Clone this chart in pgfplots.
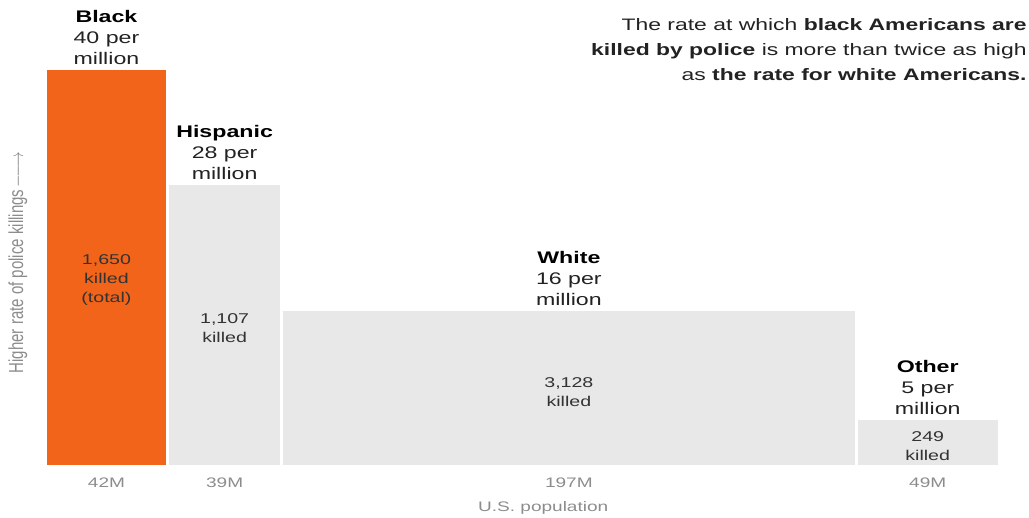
\documentclass[border=0pt]{standalone}
\usepackage{pgfplots}
\pgfplotsset{compat=1.18}
\usepackage{fontspec}
\setmainfont{Liberation Sans}
\newfontfamily\widefont[FakeStretch=1.38]{Liberation Sans}
\definecolor{orng}{HTML}{F26419}
\definecolor{lgray}{HTML}{E8E8E8}
\definecolor{tgray}{HTML}{8C8C8C}
\definecolor{ink}{HTML}{222222}
\definecolor{ink2}{HTML}{333333}
\newcommand{\hdfont}{\widefont\fontsize{8.4}{10.5}\selectfont}
\newcommand{\infont}{\widefont\fontsize{7.1}{9.5}\selectfont}
\newcommand{\tkfont}{\widefont\fontsize{6.9}{9}\selectfont}
\newcommand{\anfont}{\widefont\fontsize{8.3}{12.5}\selectfont}
\begin{document}
\begin{tikzpicture}[x=1pt,y=1pt]
\useasboundingbox (0,0) rectangle (514.5,259);
\begin{axis}[
  at={(22.6pt,25.5pt)}, anchor=south west,
  scale only axis, width=477pt, height=200pt,
  xmin=0, xmax=327, ymin=0, ymax=40,
  axis line style={draw=none}, tick style={draw=none},
  ytick=\empty,
  xtick={21,61.5,179.5,302.5},
  xticklabels={42M,39M,197M,49M},
  xticklabel style={font=\tkfont, text=tgray, anchor=base, yshift=-10.2pt},
  clip=false,
]
% bars: population (M) as widths, rate per million as heights
\addplot[fill=orng, draw=white, line width=1.5pt] coordinates {(0,0) (0,39.8) (42,39.8) (42,0)} -- cycle;
\addplot[fill=lgray, draw=white, line width=1.5pt] coordinates {(42,0) (42,28.3) (81,28.3) (81,0)} -- cycle;
\addplot[fill=lgray, draw=white, line width=1.5pt] coordinates {(81,0) (81,15.7) (278,15.7) (278,0)} -- cycle;
\addplot[fill=lgray, draw=white, line width=1.5pt] coordinates {(278,0) (278,4.8) (327,4.8) (327,0)} -- cycle;

% headers
\node[anchor=base, inner sep=0, font=\hdfont\bfseries, text=black] at (axis cs:21,44.45) {Black};
\node[anchor=base, inner sep=0, font=\hdfont, text=ink] at (axis cs:21,42.35) {40 per};
\node[anchor=base, inner sep=0, font=\hdfont, text=ink] at (axis cs:21,40.25) {million};

\node[anchor=base, inner sep=0, font=\hdfont\bfseries, text=black] at (axis cs:61.5,32.95) {Hispanic};
\node[anchor=base, inner sep=0, font=\hdfont, text=ink] at (axis cs:61.5,30.85) {28 per};
\node[anchor=base, inner sep=0, font=\hdfont, text=ink] at (axis cs:61.5,28.75) {million};

\node[anchor=base, inner sep=0, font=\hdfont\bfseries, text=black] at (axis cs:179.5,20.35) {White};
\node[anchor=base, inner sep=0, font=\hdfont, text=ink] at (axis cs:179.5,18.25) {16 per};
\node[anchor=base, inner sep=0, font=\hdfont, text=ink] at (axis cs:179.5,16.15) {million};

\node[anchor=base, inner sep=0, font=\hdfont\bfseries, text=black] at (axis cs:302.5,9.45) {Other};
\node[anchor=base, inner sep=0, font=\hdfont, text=ink] at (axis cs:302.5,7.35) {5 per};
\node[anchor=base, inner sep=0, font=\hdfont, text=ink] at (axis cs:302.5,5.25) {million};

% inner labels
\node[align=center, inner sep=0, font=\infont, text=ink2] at (axis cs:21,18.7) {1,650\\killed\\(total)};
\node[align=center, inner sep=0, font=\infont, text=ink2] at (axis cs:61.5,13.85) {1,107\\killed};
\node[align=center, inner sep=0, font=\infont, text=ink2] at (axis cs:179.5,7.5) {3,128\\killed};
\node[align=center, inner sep=0, font=\infont, text=ink2] at (axis cs:302.5,2.05) {249\\killed};

\node[anchor=base, inner sep=0, font=\tkfont, text=tgray] at (axis cs:170.7,-4.5) {U.S. population};
\end{axis}

\node[rotate=90, inner sep=0, text=tgray] at (9,127.75) {\scalebox{1}[1.35]{\fontsize{7.5}{9}\selectfont Higher rate of police killings\,$\relbar\joinrel\longrightarrow$}};

\node[anchor=base east, inner sep=0, font=\anfont, text=ink] at (513.5,243.5) {The rate at which \textbf{black Americans are}};
\node[anchor=base east, inner sep=0, font=\anfont, text=ink] at (513.5,231) {\textbf{killed by police} is more than twice as high};
\node[anchor=base east, inner sep=0, font=\anfont, text=ink] at (513.5,218.5) {as \textbf{the rate for white Americans.}};
\end{tikzpicture}
\end{document}
